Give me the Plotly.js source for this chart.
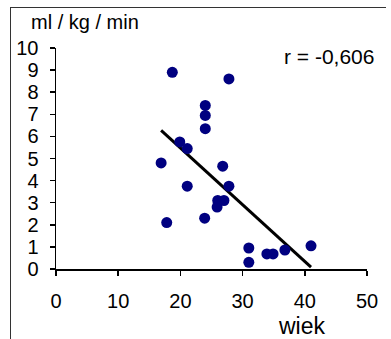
<!DOCTYPE html>
<html>
<head>
<meta charset="utf-8">
<script src="https://cdn.plot.ly/plotly-3.0.1.min.js"></script>
<style>
html,body{margin:0;padding:0;background:#fff;}
#chart{width:391px;height:339px;}
</style>
</head>
<body>
<div id="chart"></div>
<script>
// age (wiek) and value (ml / kg / min)
const wiek = [18.7, 16.9, 19.9, 21.1, 27.8, 24.0, 24.0, 24.0, 26.8, 21.1, 17.8, 27.8, 26.0, 27.0, 25.9, 23.9, 31.0, 31.0, 33.9, 34.9, 36.8, 41.0];
const mlKgMin = [8.9, 4.8, 5.75, 5.45, 8.6, 7.4, 6.95, 6.35, 4.65, 3.75, 2.1, 3.75, 3.1, 3.1, 2.8, 2.3, 0.95, 0.3, 0.68, 0.68, 0.86, 1.05];
const xTicks = [0, 10, 20, 30, 40, 50];
const yTicks = [0, 1, 2, 3, 4, 5, 6, 7, 8, 9, 10];
const rText = "r = -0,606";
const yUnit = "ml / kg / min";
const xName = "wiek";

// least-squares trend line
const n = wiek.length;
const mx = wiek.reduce((a, b) => a + b, 0) / n;
const my = mlKgMin.reduce((a, b) => a + b, 0) / n;
let sxy = 0, sxx = 0;
for (let i = 0; i < n; i++) { sxy += (wiek[i] - mx) * (mlKgMin[i] - my); sxx += (wiek[i] - mx) ** 2; }
const slope = sxy / sxx;
const icpt = my - slope * mx;
const xmin = Math.min(...wiek), xmax = Math.max(...wiek);
const trendX = [xmin, xmax];
const trendY = trendX.map(x => icpt + slope * x);

const W = 391, H = 339;
const mL = 56, mR = 24, mT = 48, mB = 70;
const pw = W - mL - mR, ph = H - mT - mB;
const px = v => (v - mL) / pw;
const py = v => (H - mB - v) / ph;

const font = "Liberation Sans, Arial, sans-serif";

const data = [
  {
    x: trendX, y: trendY, type: "scatter", mode: "lines",
    line: {color: "#000000", width: 3}, hoverinfo: "skip", cliponaxis: false
  },
  {
    x: wiek, y: mlKgMin, type: "scatter", mode: "markers",
    marker: {color: "#000080", size: 11, line: {width: 0}}, cliponaxis: false
  }
];

const layout = {
  width: W, height: H,
  margin: {l: mL, r: mR, t: mT, b: mB, pad: 0},
  paper_bgcolor: "#ffffff", plot_bgcolor: "#ffffff",
  showlegend: false,
  font: {family: font, color: "#000000", size: 20},
  xaxis: {
    range: [0, 50], tickvals: xTicks, ticktext: xTicks.map(String),
    showgrid: false, zeroline: false, showline: true, linecolor: "#000000", linewidth: 1.5,
    ticks: "outside", ticklen: 5, tickwidth: 1.5, tickcolor: "#000000",
    tickfont: {family: font, size: 20, color: "#000000"},
    ticklabelstandoff: 8, fixedrange: true
  },
  yaxis: {
    range: [0, 10], tickvals: yTicks, ticktext: yTicks.map(String),
    showgrid: false, zeroline: false, showline: true, linecolor: "#000000", linewidth: 1.5,
    ticks: "outside", ticklen: 5, tickwidth: 1.5, tickcolor: "#000000",
    tickfont: {family: font, size: 20, color: "#000000"},
    ticklabelstandoff: 7, fixedrange: true
  },
  annotations: [
    {xref: "paper", yref: "paper", x: px(29), y: py(22), text: yUnit, showarrow: false,
     xanchor: "left", yanchor: "middle", font: {family: font, size: 20, color: "#000000"}},
    {xref: "paper", yref: "paper", x: px(329), y: py(56), text: rText, showarrow: false,
     xanchor: "center", yanchor: "middle", font: {family: font, size: 21, color: "#000000"}},
    {xref: "paper", yref: "paper", x: px(302), y: py(325.5), text: xName, showarrow: false,
     xanchor: "center", yanchor: "middle", font: {family: font, size: 23, color: "#000000"}}
  ],
  shapes: [
    {type: "line", xref: "paper", yref: "paper", x0: px(10), x1: px(386), y0: py(7.5), y1: py(7.5),
     line: {color: "#333333", width: 1}},
    {type: "line", xref: "paper", yref: "paper", x0: px(10.5), x1: px(10.5), y0: py(7.5), y1: py(345),
     line: {color: "#333333", width: 1}}
  ]
};

Plotly.newPlot("chart", data, layout, {staticPlot: true, displayModeBar: false});
</script>
</body>
</html>
